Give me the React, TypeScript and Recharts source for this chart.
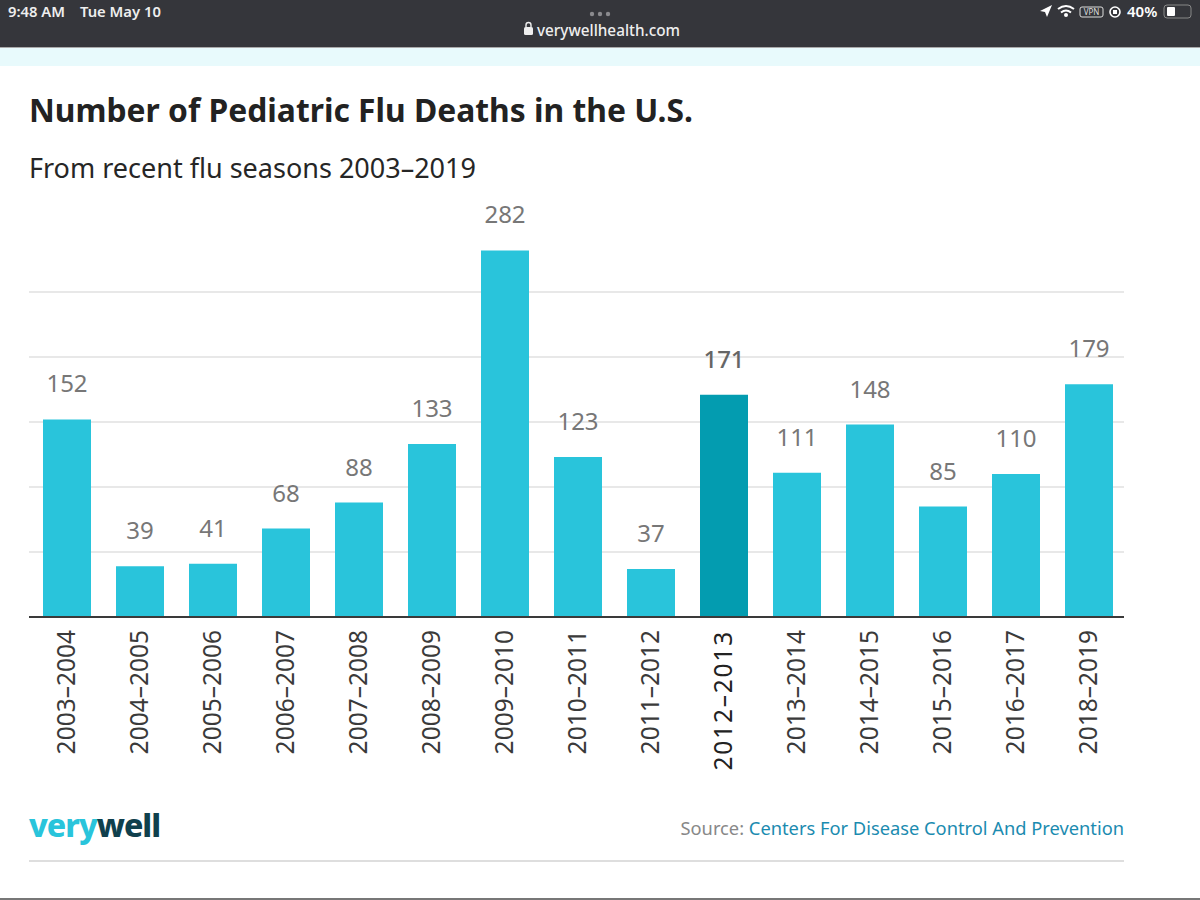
import React from "react";
import { BarChart, Bar, XAxis, YAxis, CartesianGrid, Cell, LabelList } from "recharts";

const seasons = [
  "2003–2004", "2004–2005", "2005–2006", "2006–2007", "2007–2008",
  "2008–2009", "2009–2010", "2010–2011", "2011–2012", "2012–2013",
  "2013–2014", "2014–2015", "2015–2016", "2016–2017", "2018–2019",
];
const deaths = [152, 39, 41, 68, 88, 133, 282, 123, 37, 171, 111, 148, 85, 110, 179];
const gridTicks = [0, 50, 100, 150, 200, 250];
const highlighted = "2012–2013";

const data = seasons.map((season, i) => ({ season, deaths: deaths[i] }));

const font = "'Noto Sans', sans-serif";

const SeasonTick = (props: any) => {
  const { x, y, payload } = props;
  const on = payload.value === highlighted;
  return (
    <text
      transform={`translate(${x + 8},${y + 2}) rotate(-90)`}
      textAnchor="end"
      fontFamily={font}
      fontSize={24.5}
      fill={on ? "#222" : "#3a3a3a"}
      letterSpacing={on ? 1.8 : 0}
    >
      {payload.value}
    </text>
  );
};

const ValueLabel = (props: any) => {
  const { x, y, width, value, index } = props;
  const on = seasons[index] === highlighted;
  return (
    <text
      x={x + width / 2}
      y={y - 27}
      textAnchor="middle"
      fontFamily={font}
      fontSize={24}
      fontWeight={on ? 500 : 400}
      fill={on ? "#666" : "#777"}
    >
      {value}
    </text>
  );
};

const StatusIcons = () => (
  <svg width={170} height={24} style={{ position: "absolute", left: 1030, top: 0 }}>
    <path d="M10 11 L22 5 L17 17 L15 12 Z" fill="#fff" />
    <path d="M28 9 Q36 3 44 9 M31 12.5 Q36 8.5 41 12.5" stroke="#fff" strokeWidth={2} fill="none" />
    <circle cx={36} cy={15} r={2} fill="#fff" />
    <rect x={50} y={7} width={23} height={10} rx={2} fill="none" stroke="#ddd" strokeWidth={1} />
    <text x={61.5} y={15} textAnchor="middle" fontSize={8} fontFamily={font} fill="#ddd">VPN</text>
    <circle cx={85} cy={12} r={5} fill="none" stroke="#fff" strokeWidth={1.6} />
    <rect x={83} y={10} width={4} height={4} fill="#fff" />
    <text x={97} y={17} fontSize={15} fontWeight={600} fontFamily={font} fill="#fff">40%</text>
    <rect x={134} y={5} width={27} height={13} rx={3} fill="none" stroke="#888" strokeWidth={1} />
    <rect x={137} y={7} width={8} height={9} rx={1} fill="#fff" />
  </svg>
);

export default function App() {
  return (
    <div style={{ position: "absolute", left: 0, top: 0, width: 1200, height: 900, background: "#fff", overflow: "hidden", fontFamily: font }}>
      <div style={{ position: "absolute", left: 0, top: 0, width: 1200, height: 47, background: "#35363b" }} />
      <div style={{ position: "absolute", left: 0, top: 47, width: 1200, height: 1, background: "#aaa" }} />
      <div style={{ position: "absolute", left: 0, top: 48, width: 1200, height: 18, background: "#e8fafc" }} />
      <div style={{ position: "absolute", left: 8, top: 1, fontSize: 14.8, fontWeight: 600, color: "#eee", whiteSpace: "pre" }}>9:48 AM</div>
      <div style={{ position: "absolute", left: 80, top: 1, fontSize: 14.8, fontWeight: 600, color: "#eee", whiteSpace: "pre" }}>Tue May 10</div>
      <svg width={30} height={30} style={{ position: "absolute", left: 520, top: 8 }}>
        <rect x={4} y={19} width={9} height={8} rx={1.5} fill="#eee" />
        <path d="M6 19 V17 a2.5 2.5 0 0 1 5 0 V19" stroke="#eee" strokeWidth={1.4} fill="none" />
      </svg>
      <svg width={24} height={8} style={{ position: "absolute", left: 588, top: 10 }}>
        <circle cx={4} cy={4} r={2.2} fill="#8a8a8e" />
        <circle cx={12} cy={4} r={2.2} fill="#8a8a8e" />
        <circle cx={20} cy={4} r={2.2} fill="#8a8a8e" />
      </svg>
      <div style={{ position: "absolute", left: 537, top: 20, fontSize: 15.3, fontWeight: 500, color: "#eee" }}>verywellhealth.com</div>
      <StatusIcons />

      <div style={{ position: "absolute", left: 29, top: 88, fontSize: 31.8, fontWeight: 700, color: "#222", whiteSpace: "nowrap" }}>
        Number of Pediatric Flu Deaths in the U.S.
      </div>
      <div style={{ position: "absolute", left: 29, top: 149, fontSize: 27, color: "#262626", whiteSpace: "nowrap" }}>
        From recent flu seasons 2003–2019
      </div>

      <div style={{ position: "absolute", left: 0, top: 160 }}>
        <BarChart
          width={1200}
          height={640}
          data={data}
          barSize={48}
          margin={{ top: 67, right: 76, bottom: 153, left: 29 }}
        >
          <CartesianGrid vertical={false} stroke="#e8e8e8" strokeWidth={2} horizontalValues={gridTicks} />
          <YAxis hide domain={[0, 300]} ticks={gridTicks} />
          <XAxis
            dataKey="season"
            interval={0}
            tick={<SeasonTick />}
            tickLine={false}
            axisLine={{ stroke: "#3a3a3a", strokeWidth: 2 }}
            tickMargin={5}
            padding={{ left: 1, right: -1 }}
          />
          <Bar dataKey="deaths" isAnimationActive={false}>
            {data.map((d) => (
              <Cell key={d.season} fill={d.season === highlighted ? "#039cb0" : "#29c4db"} />
            ))}
            <LabelList dataKey="deaths" content={<ValueLabel />} />
          </Bar>
        </BarChart>
      </div>

      <div style={{ position: "absolute", left: 29, top: 803, fontSize: 32, fontWeight: 800, letterSpacing: -1, lineHeight: "44px" }}>
        <span style={{ color: "#29c4db" }}>very</span>
        <span style={{ color: "#10404d" }}>well</span>
      </div>
      <div style={{ position: "absolute", right: 76, top: 815, fontSize: 18.3, color: "#888", whiteSpace: "nowrap" }}>
        Source: <span style={{ color: "#1b8bb0" }}>Centers For Disease Control And Prevention</span>
      </div>
      <div style={{ position: "absolute", left: 29, top: 860, width: 1095, height: 2, background: "#dedede" }} />
      <div style={{ position: "absolute", left: 0, top: 898, width: 1200, height: 2, background: "#777" }} />
    </div>
  );
}
